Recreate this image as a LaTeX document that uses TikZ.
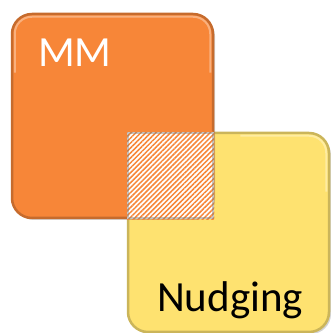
\documentclass[tikz,border=0pt]{standalone}
\usepackage{fontspec}
\setmainfont{Carlito}
\usetikzlibrary{positioning,shadows,patterns.meta}
\definecolor{mmorange}{RGB}{247,134,56}
\definecolor{nudgeyellow}{RGB}{254,226,112}

\begin{document}
\begin{tikzpicture}[x=1pt,y=1pt, every node/.style={font=\fontsize{43}{47}\selectfont},
    tile/.style={rectangle,rounded corners=20pt,minimum width=201pt,inner sep=0pt,line width=2.5pt,
      drop shadow={shadow xshift=2pt,shadow yshift=-2pt,opacity=0.35}}]
  \useasboundingbox (0,0) rectangle (331,333);
  % the two overlapping tiles
  \node[tile,fill=nudgeyellow,draw=nudgeyellow!80!black,minimum height=199pt] (nudging) at (228.5,100.5) {};
  \node[tile,fill=mmorange,draw=mmorange!80!black,minimum height=204pt] (mm) at (112.5,217) {};
  % light rim along the top
  \draw[white,opacity=0.35,line width=2pt,rounded corners=17pt]
    ([shift={(4pt,-60pt)}]mm.north west) -- ([shift={(4pt,-4pt)}]mm.north west) -- ([shift={(-4pt,-4pt)}]mm.north east) -- ([shift={(-4pt,-60pt)}]mm.north east);
  \draw[white,opacity=0.35,line width=2pt,rounded corners=17pt]
    ([shift={(-4pt,-60pt)}]nudging.north east) -- ([shift={(-4pt,-4pt)}]nudging.north east) -- ([shift={(-90pt,-4pt)}]nudging.north east);
  % hatched overlap
  \fill[white] (nudging.north west |- nudging.north) rectangle (mm.south east);
  \fill[pattern={Lines[angle=45,distance=3.5pt,line width=1.5pt]},pattern color=mmorange]
    (nudging.north west |- nudging.north) rectangle (mm.south east);
  \draw[black!50,line width=2.5pt,opacity=0.45] ([shift={(1.2pt,-1.2pt)}]nudging.north west |- nudging.north) rectangle ([shift={(-1.2pt,1.2pt)}]mm.south east);
  % labels
  \node[white,anchor=base west,inner sep=0pt] (mmlabel) at (38,266) {MM};
  \node[black,anchor=base west,inner sep=0pt] (nudginglabel) at (157,21) {Nudging};
\end{tikzpicture}
\end{document}
